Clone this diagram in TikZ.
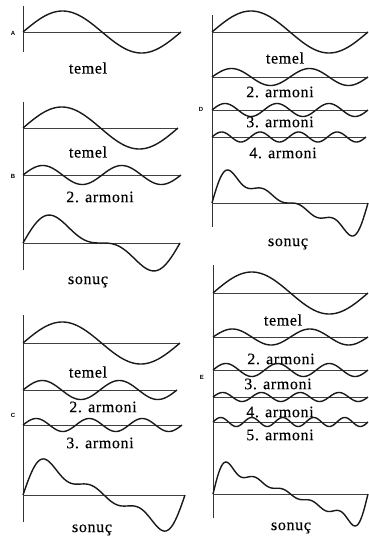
\documentclass[tikz,border=0pt]{standalone}
\usepackage{fontspec}
\setmainfont{Liberation Serif}[LetterSpace=4,FakeBold=0.4]
\newfontfamily\letfont{Liberation Sans}
\tikzset{
  wave/.style={line width=1.4pt, draw=black!90, line join=round},
  base/.style={line width=0.8pt, draw=black!75},
  axisline/.style={line width=0.9pt, draw=black!80},
  lbl/.style={font=\fontsize{16}{18}\selectfont, inner sep=0pt},
  plet/.style={font=\letfont\bfseries\fontsize{6}{7}\selectfont, inner sep=0pt}
}
\newcommand\harmw[5]{%
  \draw[base] (#1,#2) -- ++(#3,0);
  \draw[wave] plot[domain=0:360,samples=160,smooth] ({#1+\x/360*#3},{#2-#4*sin(#5*\x)});
}
\newcommand\sonucw[5]{%
  \draw[base] (#1,#2) -- ++(#3,0);
  \draw[wave] plot[domain=0:360,samples=220,smooth] ({#1+\x/360*#3},{#2-#4*(sin(\x)+(#5>1)*sin(2*\x)/2+(#5>2)*sin(3*\x)/3+(#5>3)*sin(4*\x)/4+(#5>4)*sin(5*\x)/5)});
}
\begin{document}
\begin{tikzpicture}[x=1pt,y=-1pt]
\useasboundingbox (0,0) rectangle (369,539);
% ---------- A ----------
\draw[axisline] (23,6) -- (23,52);
\harmw{23}{32}{158}{21}{1}
\node[plet] (la) at (13,33) {A};
\node[lbl] (ta) at (88,68) {temel};
% ---------- B ----------
\draw[axisline] (23,102) -- (23,270);
\harmw{23}{128}{155}{21}{1}
\node[lbl] (tb1) at (88,152) {temel};
\harmw{23}{175}{158}{9.5}{2}
\node[plet] (lb) at (13,176) {B};
\node[lbl] (tb2) at (100,197) {2. armoni};
\sonucw{23}{243}{157}{21.5}{2}
\node[lbl] (tb3) at (88,282) {sonuç};
% ---------- C ----------
\draw[axisline] (23,315) -- (23,522);
\harmw{23}{343}{157}{21}{1}
\node[lbl] (tc1) at (88,372) {temel};
\harmw{23}{390}{154}{9.5}{2}
\node[lbl] (tc2) at (103,407) {2. armoni};
\node[plet] (lc) at (13,415) {C};
\harmw{23}{425}{159}{6.5}{3}
\node[lbl] (tc3) at (100,443) {3. armoni};
\sonucw{23}{495}{162}{25}{3}
\node[lbl] (tc4) at (92,530) {sonuç};
% ---------- D ----------
\draw[axisline] (212,15) -- (212,227);
\harmw{212}{32}{156}{21}{1}
\node[lbl] (td1) at (285,58) {temel};
\harmw{212}{77}{156}{8.5}{2}
\node[lbl] (td2) at (280,92) {2. armoni};
\node[plet] (ld) at (201,109) {D};
\harmw{212}{110}{156}{6.5}{3}
\node[lbl] (td3) at (280,122) {3. armoni};
\harmw{212}{137}{154}{5}{4}
\node[lbl] (td4) at (283,153) {4. armoni};
\sonucw{212}{203}{156}{21.6}{4}
\node[lbl] (td5) at (288,244) {sonuç};
% ---------- E ----------
\draw[axisline] (213,265) -- (213,518);
\harmw{213}{293}{155}{21}{1}
\node[lbl] (te1) at (283,320) {temel};
\harmw{213}{337}{155}{8}{2}
\node[lbl] (te2) at (281,359) {2. armoni};
\node[plet] (le) at (202,377) {E};
\harmw{213}{370}{155}{6.5}{3}
\node[lbl] (te3) at (278,384) {3. armoni};
\harmw{213}{397}{155}{4.5}{4}
\node[lbl] (te4) at (280,412) {4. armoni};
\harmw{213}{422}{155}{4.5}{5}
\node[lbl] (te5) at (280,435) {5. armoni};
\sonucw{213}{494}{155}{20.2}{5}
\node[lbl] (te6) at (291,528) {sonuç};
\end{tikzpicture}
\end{document}
